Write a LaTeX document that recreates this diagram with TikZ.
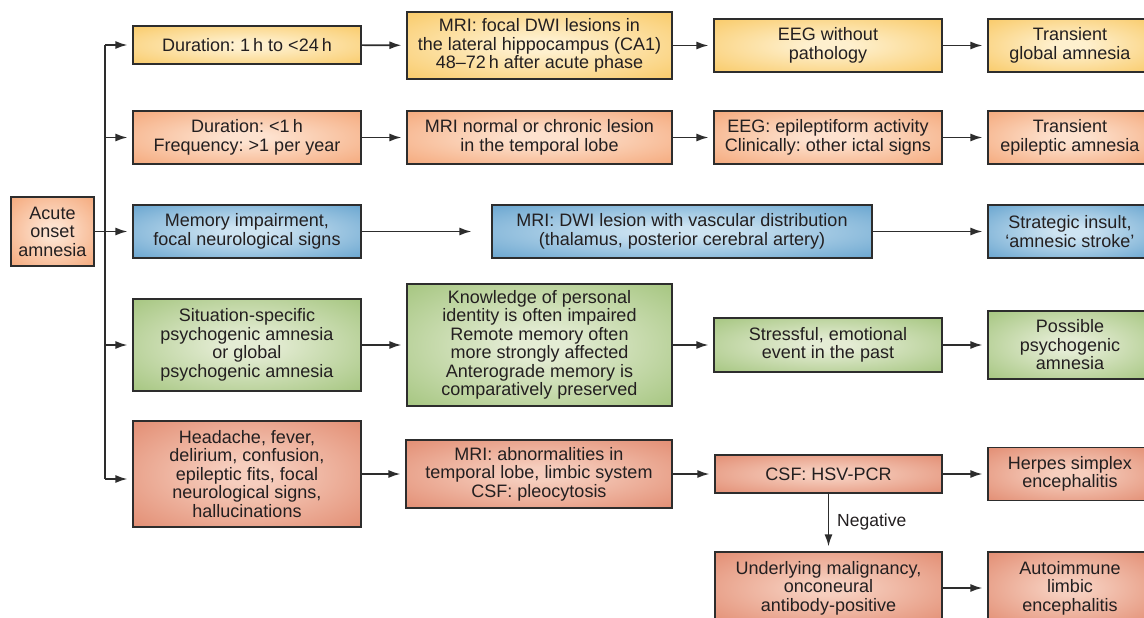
\documentclass[tikz,border=0pt]{standalone}
\usepackage{fontspec}
\setmainfont{Liberation Sans}
\usetikzlibrary{arrows.meta}
\frenchspacing
\definecolor{glowin}{RGB}{255,255,255}
\definecolor{glowout}{RGB}{0,0,0}
\pgfdeclareradialshading[glowin,glowout]{glow}{\pgfpoint{0bp}{0bp}}{color(0bp)=(glowin); color(5bp)=(glowin); color(38bp)=(glowout); color(50bp)=(glowout)}
\definecolor{yin}{RGB}{254,240,206}
\definecolor{yout}{RGB}{249,200,98}
\definecolor{oin}{RGB}{253,226,207}
\definecolor{oout}{RGB}{244,165,118}
\definecolor{bin}{RGB}{206,228,242}
\definecolor{bout}{RGB}{98,161,205}
\definecolor{gin}{RGB}{228,236,212}
\definecolor{gout}{RGB}{161,195,122}
\definecolor{rin}{RGB}{246,206,190}
\definecolor{rout}{RGB}{225,137,110}
\definecolor{linecol}{RGB}{45,45,45}
\definecolor{txt}{RGB}{35,31,32}
\tikzset{
  box/.style={rectangle, draw=linecol, line width=1.2pt, shading=glow, text=txt,
    align=center, inner sep=0pt, font=\fontsize{18}{18.5}\selectfont},
  ybox/.style={box, /utils/exec={\colorlet{glowin}{yin}\colorlet{glowout}{yout}}},
  obox/.style={box, /utils/exec={\colorlet{glowin}{oin}\colorlet{glowout}{oout}}},
  bbox/.style={box, /utils/exec={\colorlet{glowin}{bin}\colorlet{glowout}{bout}}},
  gbox/.style={box, /utils/exec={\colorlet{glowin}{gin}\colorlet{glowout}{gout}}},
  rbox/.style={box, /utils/exec={\colorlet{glowin}{rin}\colorlet{glowout}{rout}}},
  conn/.style={draw=linecol, line width=1.6pt},
  arr/.style={conn, -{Latex[length=12pt,width=8pt]}, shorten >=5pt},
  lbl/.style={text=txt, inner sep=0pt, font=\fontsize{17.5}{18}\selectfont}
}
\begin{document}
\begin{tikzpicture}[x=1pt,y=-1pt]
\clip (0,0) rectangle (1144,618);
\fill[white] (0,0) rectangle (1144,618);
% row 1
\node[ybox, minimum width=228pt, minimum height=38pt] (a1) at (247,45) {Duration: 1\,h to <24\,h};
\node[ybox, minimum width=265pt, minimum height=67pt] (b1) at (539.5,45.5) {MRI: focal DWI lesions in\\the lateral hippocampus (CA1)\\48–72\,h after acute phase};
\node[ybox, minimum width=228pt, minimum height=53pt] (c1) at (828,45.5) {EEG without\\pathology};
\node[ybox, minimum width=164pt, minimum height=53pt] (d1) at (1070,45.5) {Transient\\global amnesia};
% row 2
\node[obox, minimum width=228pt, minimum height=53pt] (a2) at (247,137.5) {Duration: <1\,h\\Frequency: >1 per year};
\node[obox, minimum width=265pt, minimum height=53pt] (b2) at (539.5,137.5) {MRI normal or chronic lesion\\in the temporal lobe};
\node[obox, minimum width=228pt, minimum height=53pt] (c2) at (828,137.5) {EEG: epileptiform activity\\Clinically: other ictal signs};
\node[obox, minimum width=164pt, minimum height=53pt] (d2) at (1070,137.5) {Transient\\epileptic amnesia};
% row 3
\node[obox, minimum width=83pt, minimum height=69pt] (acute) at (52.5,231.5) {Acute\\onset\\amnesia};
\node[bbox, minimum width=228pt, minimum height=53pt] (a3) at (247,231.5) {Memory impairment,\\focal neurological signs};
\node[bbox, minimum width=380pt, minimum height=53pt] (m3) at (682,231.5) {MRI: DWI lesion with vascular distribution\\(thalamus, posterior cerebral artery)};
\node[bbox, minimum width=164pt, minimum height=53pt] (d3) at (1070,231.5) {Strategic insult,\\‘amnesic stroke’};
% row 4
\node[gbox, minimum width=228pt, minimum height=92pt] (a4) at (247,345) {Situation-specific\\psychogenic amnesia\\or global\\psychogenic amnesia};
\node[gbox, minimum width=265pt, minimum height=122pt] (b4) at (539.5,345) {Knowledge of personal\\identity is often impaired\\Remote memory often\\more strongly affected\\Anterograde memory is\\comparatively preserved};
\node[gbox, minimum width=228pt, minimum height=54pt] (c4) at (828,345) {Stressful, emotional\\event in the past};
\node[gbox, minimum width=164pt, minimum height=68pt] (d4) at (1070,345) {Possible\\psychogenic\\amnesia};
% row 5
\node[rbox, minimum width=228pt, minimum height=106pt] (a5) at (247,474) {Headache, fever,\\delirium, confusion,\\epileptic fits, focal\\neurological signs,\\hallucinations};
\node[rbox, minimum width=266pt, minimum height=68pt] (b5) at (539,474) {MRI: abnormalities in\\temporal lobe, limbic system\\CSF: pleocytosis};
\node[rbox, minimum width=227pt, minimum height=38pt] (c5) at (828.5,474) {CSF: HSV-PCR};
\node[rbox, minimum width=164pt, minimum height=53pt] (d5) at (1070,474) {Herpes simplex\\encephalitis};
% row 6
\node[rbox, minimum width=227pt, minimum height=72pt] (c6) at (828.5,588) {Underlying malignancy,\\onconeural\\antibody-positive};
\node[rbox, minimum width=164pt, minimum height=72pt] (d6) at (1070,588) {Autoimmune\\limbic\\encephalitis};
\node[lbl, anchor=west] (neg) at (837,522) {Negative};
% trunk
\coordinate (t1) at (105,45);
\coordinate (t2) at (105,137.5);
\coordinate (t4) at (105,345);
\coordinate (t5) at (105,479);
\draw[conn] (t1) -- (t5);
\draw[arr] (t1) -- (a1);
\draw[arr] (t2) -- (a2);
\draw[arr] (acute) -- (a3);
\draw[arr] (t4) -- (a4);
\draw[arr] (t5) -- (t5 -| a5.west);
% rows
\draw[arr] (a1) -- (b1);
\draw[arr] (b1) -- (c1);
\draw[arr] (c1) -- (d1);
\draw[arr] (a2) -- (b2);
\draw[arr] (b2) -- (c2);
\draw[arr] (c2) -- (d2);
\draw[arr, shorten >=20pt] (a3) -- (m3);
\draw[arr] (m3) -- (d3);
\draw[arr] (a4) -- (b4);
\draw[arr] (b4) -- (c4);
\draw[arr] (c4) -- (d4);
\draw[arr] (a5) -- (b5);
\draw[arr] (b5) -- (c5);
\draw[arr] (c5) -- (d5);
\draw[arr] (c5) -- (c6);
\draw[arr] (c6) -- (d6);
\end{tikzpicture}
\end{document}
